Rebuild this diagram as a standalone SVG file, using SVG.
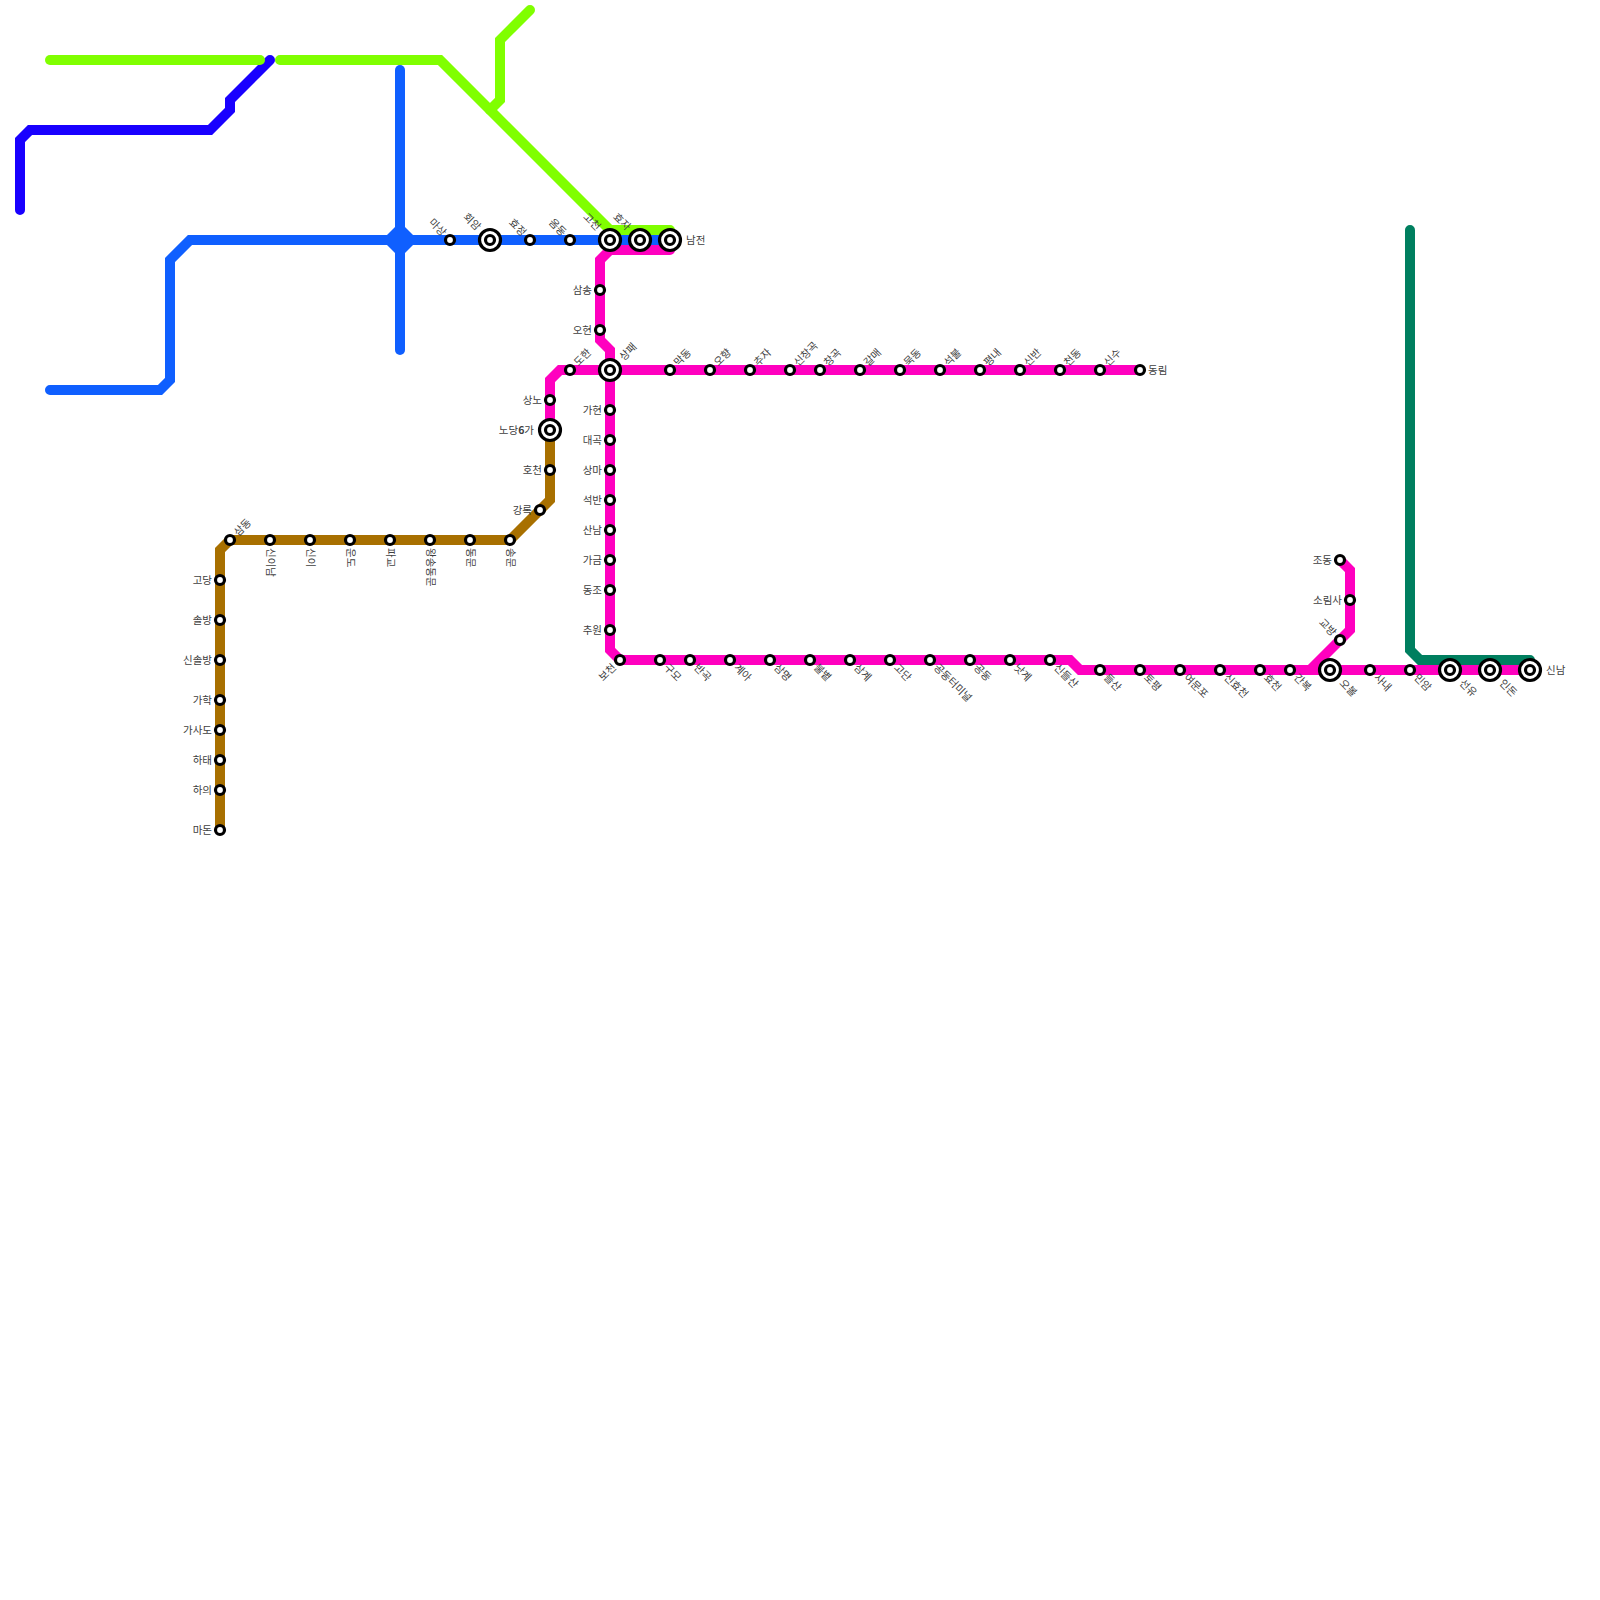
<svg xmlns="http://www.w3.org/2000/svg" width="1600" height="1600" viewBox="0 0 1600 1600">
<style>
.ln{fill:none;stroke-width:10;stroke-linecap:round;stroke-linejoin:miter}
.g{stroke:#80ff00}.n{stroke:#1900ff}.b{stroke:#0f5fff}.p{stroke:#ff00bf}.o{stroke:#a87000}.t{stroke:#007f5f}
.s{fill:#fff;stroke:#000;stroke-width:3.2}
.r{fill:#fff;stroke:#000;stroke-width:3.2}
text{font-family:"Noto Sans CJK KR","Liberation Sans",sans-serif;font-size:10.5px;fill:#404040;dominant-baseline:central}
.e{text-anchor:end}
</style>
<rect width="1600" height="1600" fill="#fff"/>
<g id="connectors">
<path class="ln n" d="M20 210V140L30 130H210L230 110V100L270 60"/>
<path class="ln g" d="M50 60H260"/>
<path class="ln g" d="M280 60H440L610 230H670"/>
<path class="ln g" d="M530 10L500 40V100L490 110"/>
<path class="ln t" d="M1410 230V650L1420 660H1530"/>
<path class="ln p" d="M670 250H610L600 260V340L610 350V650L620 660H1070L1080 670H1530"/>
<path class="ln p" d="M1140 370H560L550 380V430"/>
<path class="ln p" d="M1340 560L1350 570V630L1310 670"/>
<path class="ln o" d="M550 430V500L510 540H230L220 550V830"/>
<path class="ln b" d="M50 390H160L170 380V260L190 240H670"/>
<path class="ln b" d="M400 70V350"/>
<polygon points="405,227 413,235 413,245 405,253 395,253 387,245 387,235 395,227" fill="#0f5fff"/>
</g>
<g id="n1"><circle class="s" cx="450" cy="240" r="4.5"/><text dy="-1" class="e" transform="translate(444.3,234.3) rotate(45)">마상</text></g>
<g id="n2"><circle class="r" cx="490" cy="240" r="10.5"/><circle class="s" cx="490" cy="240" r="4.5"/><text dy="-1" class="e" transform="translate(478.7,228.7) rotate(45)">회암</text></g>
<g id="n3"><circle class="s" cx="530" cy="240" r="4.5"/><text dy="-1" class="e" transform="translate(524.3,234.3) rotate(45)">효정</text></g>
<g id="n4"><circle class="s" cx="570" cy="240" r="4.5"/><text dy="-1" class="e" transform="translate(564.3,234.3) rotate(45)">옴동</text></g>
<g id="n5"><circle class="r" cx="610" cy="240" r="10.5"/><circle class="s" cx="610" cy="240" r="4.5"/><text dy="-1" class="e" transform="translate(598.7,228.7) rotate(45)">고천</text></g>
<g id="n6"><circle class="r" cx="640" cy="240" r="10.5"/><circle class="s" cx="640" cy="240" r="4.5"/><text dy="-1" class="e" transform="translate(628.7,228.7) rotate(45)">효자</text></g>
<g id="n7"><circle class="r" cx="670" cy="240" r="10.5"/><circle class="s" cx="670" cy="240" r="4.5"/><text dy="-1" x="686" y="240">남전</text></g>
<g id="n8"><circle class="s" cx="600" cy="290" r="4.5"/><text dy="-1" class="e" x="592" y="290">삼송</text></g>
<g id="n9"><circle class="s" cx="600" cy="330" r="4.5"/><text dy="-1" class="e" x="592" y="330">오현</text></g>
<g id="n10"><circle class="s" cx="570" cy="370" r="4.5"/><text dy="-1" transform="translate(575.7,364.3) rotate(-45)">도한</text></g>
<g id="n11"><circle class="r" cx="610" cy="370" r="10.5"/><circle class="s" cx="610" cy="370" r="4.5"/><text dy="-1" transform="translate(621.3,358.7) rotate(-45)">상패</text></g>
<g id="n12"><circle class="s" cx="670" cy="370" r="4.5"/><text dy="-1" transform="translate(675.7,364.3) rotate(-45)">막동</text></g>
<g id="n13"><circle class="s" cx="710" cy="370" r="4.5"/><text dy="-1" transform="translate(715.7,364.3) rotate(-45)">오향</text></g>
<g id="n14"><circle class="s" cx="750" cy="370" r="4.5"/><text dy="-1" transform="translate(755.7,364.3) rotate(-45)">추자</text></g>
<g id="n15"><circle class="s" cx="790" cy="370" r="4.5"/><text dy="-1" transform="translate(795.7,364.3) rotate(-45)">신창곡</text></g>
<g id="n16"><circle class="s" cx="820" cy="370" r="4.5"/><text dy="-1" transform="translate(825.7,364.3) rotate(-45)">창곡</text></g>
<g id="n17"><circle class="s" cx="860" cy="370" r="4.5"/><text dy="-1" transform="translate(865.7,364.3) rotate(-45)">갈매</text></g>
<g id="n18"><circle class="s" cx="900" cy="370" r="4.5"/><text dy="-1" transform="translate(905.7,364.3) rotate(-45)">묵동</text></g>
<g id="n19"><circle class="s" cx="940" cy="370" r="4.5"/><text dy="-1" transform="translate(945.7,364.3) rotate(-45)">석불</text></g>
<g id="n20"><circle class="s" cx="980" cy="370" r="4.5"/><text dy="-1" transform="translate(985.7,364.3) rotate(-45)">평내</text></g>
<g id="n21"><circle class="s" cx="1020" cy="370" r="4.5"/><text dy="-1" transform="translate(1025.7,364.3) rotate(-45)">신반</text></g>
<g id="n22"><circle class="s" cx="1060" cy="370" r="4.5"/><text dy="-1" transform="translate(1065.7,364.3) rotate(-45)">천동</text></g>
<g id="n23"><circle class="s" cx="1100" cy="370" r="4.5"/><text dy="-1" transform="translate(1105.7,364.3) rotate(-45)">신수</text></g>
<g id="n24"><circle class="s" cx="1140" cy="370" r="4.5"/><text dy="-1" x="1148" y="370">동림</text></g>
<g id="n25"><circle class="s" cx="550" cy="400" r="4.5"/><text dy="-1" class="e" x="542" y="400">상노</text></g>
<g id="n26"><circle class="r" cx="550" cy="430" r="10.5"/><circle class="s" cx="550" cy="430" r="4.5"/><text dy="-1" class="e" x="534" y="430">노당<tspan font-weight="bold">6</tspan>가</text></g>
<g id="n27"><circle class="s" cx="550" cy="470" r="4.5"/><text dy="-1" class="e" x="542" y="470">호천</text></g>
<g id="n28"><circle class="s" cx="540" cy="510" r="4.5"/><text dy="-1" class="e" x="532" y="510">강록</text></g>
<g id="n29"><circle class="s" cx="510" cy="540" r="4.5"/><text dy="-1" transform="translate(510,548) rotate(90)">송문</text></g>
<g id="n30"><circle class="s" cx="470" cy="540" r="4.5"/><text dy="-1" transform="translate(470,548) rotate(90)">동문</text></g>
<g id="n31"><circle class="s" cx="430" cy="540" r="4.5"/><text dy="-1" transform="translate(430,548) rotate(90)">왕송동문</text></g>
<g id="n32"><circle class="s" cx="390" cy="540" r="4.5"/><text dy="-1" transform="translate(390,548) rotate(90)">파교</text></g>
<g id="n33"><circle class="s" cx="350" cy="540" r="4.5"/><text dy="-1" transform="translate(350,548) rotate(90)">운도</text></g>
<g id="n34"><circle class="s" cx="310" cy="540" r="4.5"/><text dy="-1" transform="translate(310,548) rotate(90)">신이</text></g>
<g id="n35"><circle class="s" cx="270" cy="540" r="4.5"/><text dy="-1" transform="translate(270,548) rotate(90)">신이남</text></g>
<g id="n36"><circle class="s" cx="230" cy="540" r="4.5"/><text dy="-1" transform="translate(235.7,534.3) rotate(-45)">삼동</text></g>
<g id="n37"><circle class="s" cx="220" cy="580" r="4.5"/><text dy="-1" class="e" x="212" y="580">고당</text></g>
<g id="n38"><circle class="s" cx="220" cy="620" r="4.5"/><text dy="-1" class="e" x="212" y="620">솔방</text></g>
<g id="n39"><circle class="s" cx="220" cy="660" r="4.5"/><text dy="-1" class="e" x="212" y="660">신솔방</text></g>
<g id="n40"><circle class="s" cx="220" cy="700" r="4.5"/><text dy="-1" class="e" x="212" y="700">가학</text></g>
<g id="n41"><circle class="s" cx="220" cy="730" r="4.5"/><text dy="-1" class="e" x="212" y="730">가사도</text></g>
<g id="n42"><circle class="s" cx="220" cy="760" r="4.5"/><text dy="-1" class="e" x="212" y="760">하태</text></g>
<g id="n43"><circle class="s" cx="220" cy="790" r="4.5"/><text dy="-1" class="e" x="212" y="790">하의</text></g>
<g id="n44"><circle class="s" cx="220" cy="830" r="4.5"/><text dy="-1" class="e" x="212" y="830">마돈</text></g>
<g id="n45"><circle class="s" cx="610" cy="410" r="4.5"/><text dy="-1" class="e" x="602" y="410">가현</text></g>
<g id="n46"><circle class="s" cx="610" cy="440" r="4.5"/><text dy="-1" class="e" x="602" y="440">대곡</text></g>
<g id="n47"><circle class="s" cx="610" cy="470" r="4.5"/><text dy="-1" class="e" x="602" y="470">상마</text></g>
<g id="n48"><circle class="s" cx="610" cy="500" r="4.5"/><text dy="-1" class="e" x="602" y="500">석반</text></g>
<g id="n49"><circle class="s" cx="610" cy="530" r="4.5"/><text dy="-1" class="e" x="602" y="530">산남</text></g>
<g id="n50"><circle class="s" cx="610" cy="560" r="4.5"/><text dy="-1" class="e" x="602" y="560">가금</text></g>
<g id="n51"><circle class="s" cx="610" cy="590" r="4.5"/><text dy="-1" class="e" x="602" y="590">동조</text></g>
<g id="n52"><circle class="s" cx="610" cy="630" r="4.5"/><text dy="-1" class="e" x="602" y="630">추원</text></g>
<g id="n53"><circle class="s" cx="620" cy="660" r="4.5"/><text dy="-1" class="e" transform="translate(614.3,665.7) rotate(-45)">보천</text></g>
<g id="n54"><circle class="s" cx="660" cy="660" r="4.5"/><text dy="-1" transform="translate(665.7,665.7) rotate(45)">구모</text></g>
<g id="n55"><circle class="s" cx="690" cy="660" r="4.5"/><text dy="-1" transform="translate(695.7,665.7) rotate(45)">반곡</text></g>
<g id="n56"><circle class="s" cx="730" cy="660" r="4.5"/><text dy="-1" transform="translate(735.7,665.7) rotate(45)">계아</text></g>
<g id="n57"><circle class="s" cx="770" cy="660" r="4.5"/><text dy="-1" transform="translate(775.7,665.7) rotate(45)">삼명</text></g>
<g id="n58"><circle class="s" cx="810" cy="660" r="4.5"/><text dy="-1" transform="translate(815.7,665.7) rotate(45)">불볕</text></g>
<g id="n59"><circle class="s" cx="850" cy="660" r="4.5"/><text dy="-1" transform="translate(855.7,665.7) rotate(45)">삼계</text></g>
<g id="n60"><circle class="s" cx="890" cy="660" r="4.5"/><text dy="-1" transform="translate(895.7,665.7) rotate(45)">고단</text></g>
<g id="n61"><circle class="s" cx="930" cy="660" r="4.5"/><text dy="-1" transform="translate(935.7,665.7) rotate(45)">공동터미널</text></g>
<g id="n62"><circle class="s" cx="970" cy="660" r="4.5"/><text dy="-1" transform="translate(975.7,665.7) rotate(45)">공동</text></g>
<g id="n63"><circle class="s" cx="1010" cy="660" r="4.5"/><text dy="-1" transform="translate(1015.7,665.7) rotate(45)">낫계</text></g>
<g id="n64"><circle class="s" cx="1050" cy="660" r="4.5"/><text dy="-1" transform="translate(1055.7,665.7) rotate(45)">신들산</text></g>
<g id="n65"><circle class="s" cx="1100" cy="670" r="4.5"/><text dy="-1" transform="translate(1105.7,675.7) rotate(45)">들산</text></g>
<g id="n66"><circle class="s" cx="1140" cy="670" r="4.5"/><text dy="-1" transform="translate(1145.7,675.7) rotate(45)">토평</text></g>
<g id="n67"><circle class="s" cx="1180" cy="670" r="4.5"/><text dy="-1" transform="translate(1185.7,675.7) rotate(45)">여문포</text></g>
<g id="n68"><circle class="s" cx="1220" cy="670" r="4.5"/><text dy="-1" transform="translate(1225.7,675.7) rotate(45)">신효천</text></g>
<g id="n69"><circle class="s" cx="1260" cy="670" r="4.5"/><text dy="-1" transform="translate(1265.7,675.7) rotate(45)">효천</text></g>
<g id="n70"><circle class="s" cx="1290" cy="670" r="4.5"/><text dy="-1" transform="translate(1295.7,675.7) rotate(45)">간복</text></g>
<g id="n71"><circle class="r" cx="1330" cy="670" r="10.5"/><circle class="s" cx="1330" cy="670" r="4.5"/><text dy="-1" transform="translate(1341.3,681.3) rotate(45)">오볼</text></g>
<g id="n72"><circle class="s" cx="1370" cy="670" r="4.5"/><text dy="-1" transform="translate(1375.7,675.7) rotate(45)">사내</text></g>
<g id="n73"><circle class="s" cx="1410" cy="670" r="4.5"/><text dy="-1" transform="translate(1415.7,675.7) rotate(45)">민암</text></g>
<g id="n74"><circle class="r" cx="1450" cy="670" r="10.5"/><circle class="s" cx="1450" cy="670" r="4.5"/><text dy="-1" transform="translate(1461.3,681.3) rotate(45)">선유</text></g>
<g id="n75"><circle class="r" cx="1490" cy="670" r="10.5"/><circle class="s" cx="1490" cy="670" r="4.5"/><text dy="-1" transform="translate(1501.3,681.3) rotate(45)">인돈</text></g>
<g id="n76"><circle class="r" cx="1530" cy="670" r="10.5"/><circle class="s" cx="1530" cy="670" r="4.5"/><text dy="-1" x="1546" y="670">신남</text></g>
<g id="n77"><circle class="s" cx="1340" cy="560" r="4.5"/><text dy="-1" class="e" x="1332" y="560">조동</text></g>
<g id="n78"><circle class="s" cx="1350" cy="600" r="4.5"/><text dy="-1" class="e" x="1342" y="600">소림사</text></g>
<g id="n79"><circle class="s" cx="1340" cy="640" r="4.5"/><text dy="-1" class="e" transform="translate(1334.3,634.3) rotate(45)">교방</text></g>
</svg>
